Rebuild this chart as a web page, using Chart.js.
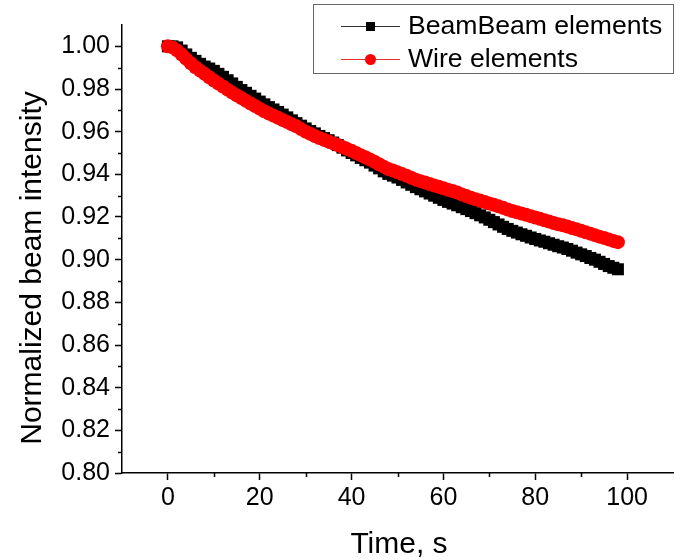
<!DOCTYPE html>
<html>
<head>
<meta charset="utf-8">
<script src="https://cdn.jsdelivr.net/npm/chart.js@4/dist/chart.umd.min.js"></script>
<style>
  html, body { margin: 0; padding: 0; background: #fff; }
  #wrap { width: 682px; height: 560px; position: relative; }
</style>
</head>
<body>
<div id="wrap"><canvas id="c" width="682" height="560"></canvas></div>
<script>
// Time axis (seconds)
const timeS = [
  0, 1, 2, 3, 4, 5, 6, 7, 8, 9,
  10, 11, 12, 13, 14, 15, 16, 17, 18, 19,
  20, 21, 22, 23, 24, 25, 26, 27, 28, 29,
  30, 31, 32, 33, 34, 35, 36, 37, 38, 39,
  40, 41, 42, 43, 44, 45, 46, 47, 48, 49,
  50, 51, 52, 53, 54, 55, 56, 57, 58, 59,
  60, 61, 62, 63, 64, 65, 66, 67, 68, 69,
  70, 71, 72, 73, 74, 75, 76, 77, 78, 79,
  80, 81, 82, 83, 84, 85, 86, 87, 88, 89,
  90, 91, 92, 93, 94, 95, 96, 97, 98
];

// Normalized intensity, BeamBeam elements
const beamBeam = [
  1.0000, 1.0000, 0.9995, 0.9980, 0.9962, 0.9946, 0.9932, 0.9918, 0.9905, 0.9896,
  0.9885, 0.9871, 0.9857, 0.9841, 0.9826, 0.9810, 0.9795, 0.9782, 0.9768, 0.9755,
  0.9741, 0.9728, 0.9715, 0.9704, 0.9692, 0.9680, 0.9667, 0.9653, 0.9640, 0.9628,
  0.9615, 0.9603, 0.9592, 0.9580, 0.9570, 0.9560, 0.9549, 0.9537, 0.9525, 0.9512,
  0.9500, 0.9489, 0.9477, 0.9466, 0.9455, 0.9441, 0.9428, 0.9414, 0.9402, 0.9394,
  0.9385, 0.9374, 0.9362, 0.9351, 0.9340, 0.9330, 0.9320, 0.9310, 0.9300, 0.9290,
  0.9280, 0.9271, 0.9263, 0.9255, 0.9246, 0.9237, 0.9228, 0.9218, 0.9208, 0.9198,
  0.9187, 0.9176, 0.9165, 0.9154, 0.9144, 0.9135, 0.9127, 0.9119, 0.9112, 0.9104,
  0.9097, 0.9090, 0.9084, 0.9077, 0.9070, 0.9063, 0.9057, 0.9050, 0.9042, 0.9033,
  0.9025, 0.9017, 0.9008, 0.9000, 0.8990, 0.8980, 0.8970, 0.8962, 0.8955
];

// Normalized intensity, Wire elements
const wire = [
  1.0000, 0.9995, 0.9981, 0.9962, 0.9941, 0.9921, 0.9902, 0.9886, 0.9871, 0.9855,
  0.9840, 0.9826, 0.9812, 0.9797, 0.9783, 0.9770, 0.9758, 0.9745, 0.9732, 0.9720,
  0.9708, 0.9696, 0.9685, 0.9675, 0.9665, 0.9655, 0.9645, 0.9635, 0.9625, 0.9612,
  0.9600, 0.9590, 0.9580, 0.9570, 0.9562, 0.9554, 0.9545, 0.9537, 0.9528, 0.9519,
  0.9510, 0.9500, 0.9490, 0.9480, 0.9470, 0.9459, 0.9447, 0.9436, 0.9425, 0.9418,
  0.9410, 0.9401, 0.9393, 0.9384, 0.9375, 0.9368, 0.9362, 0.9355, 0.9348, 0.9342,
  0.9335, 0.9328, 0.9322, 0.9315, 0.9306, 0.9298, 0.9290, 0.9283, 0.9277, 0.9270,
  0.9263, 0.9257, 0.9250, 0.9243, 0.9235, 0.9228, 0.9222, 0.9216, 0.9210, 0.9204,
  0.9198, 0.9192, 0.9185, 0.9179, 0.9172, 0.9166, 0.9161, 0.9155, 0.9148, 0.9142,
  0.9135, 0.9128, 0.9122, 0.9115, 0.9108, 0.9102, 0.9095, 0.9088, 0.9082
];

// Tick labels
const xTicks = [0, 20, 40, 60, 80, 100];
const xMinorTicks = [10, 30, 50, 70, 90];
const yTicks = [0.80, 0.82, 0.84, 0.86, 0.88, 0.90, 0.92, 0.94, 0.96, 0.98, 1.00];
const yMinorTicks = [0.81, 0.83, 0.85, 0.87, 0.89, 0.91, 0.93, 0.95, 0.97, 0.99];

const seriesNames = ['BeamBeam elements', 'Wire elements'];
const xTitle = 'Time, s';
const yTitle = 'Normalized beam intensity';

const FONT = "'Liberation Sans', Arial, sans-serif";
Chart.defaults.font.family = FONT;
Chart.defaults.color = '#000';

const toPoints = (xs, ys) => xs.map((x, i) => ({ x: x, y: ys[i] }));

// Short minor tick marks on both axes
const minorTicks = {
  id: 'minorTicks',
  afterDraw(chart) {
    const { ctx, scales: { x, y }, chartArea } = chart;
    ctx.save();
    ctx.strokeStyle = '#000';
    ctx.lineWidth = 1.5;
    ctx.beginPath();
    yMinorTicks.forEach(v => {
      const py = Math.round(y.getPixelForValue(v)) + 0.5;
      ctx.moveTo(chartArea.left, py);
      ctx.lineTo(chartArea.left - 4, py);
    });
    xMinorTicks.forEach(v => {
      const px = Math.round(x.getPixelForValue(v)) + 0.5;
      ctx.moveTo(px, chartArea.bottom);
      ctx.lineTo(px, chartArea.bottom + 4);
    });
    ctx.stroke();
    ctx.restore();
  }
};

// Axis titles
const axisTitles = {
  id: 'axisTitles',
  afterDraw(chart) {
    const ctx = chart.ctx;
    ctx.save();
    ctx.fillStyle = '#000';
    ctx.font = '30px ' + FONT;
    ctx.textAlign = 'center';
    ctx.textBaseline = 'middle';
    ctx.fillText(xTitle, 399, 545);
    ctx.translate(33, 268);
    ctx.rotate(-Math.PI / 2);
    ctx.fillText(yTitle, 0, 0);
    ctx.restore();
  }
};

// Boxed legend with line + marker samples
const boxLegend = {
  id: 'boxLegend',
  afterDraw(chart) {
    const ctx = chart.ctx;
    ctx.save();
    ctx.strokeStyle = '#666';
    ctx.lineWidth = 1;
    ctx.strokeRect(313.5, 4.5, 360, 69);
    const rows = [26, 59];
    chart.data.datasets.forEach((ds, i) => {
      const yy = rows[i];
      ctx.strokeStyle = ds.legendLine;
      ctx.lineWidth = 1;
      ctx.beginPath();
      ctx.moveTo(341, yy + 0.5);
      ctx.lineTo(400, yy + 0.5);
      ctx.stroke();
      ctx.fillStyle = ds.pointBackgroundColor;
      if (ds.pointStyle === 'rect') {
        ctx.fillRect(366, yy - 4, 9, 9);
      } else {
        ctx.beginPath();
        ctx.arc(370.5, yy + 0.5, 5.5, 0, Math.PI * 2);
        ctx.fill();
      }
      ctx.fillStyle = '#000';
      ctx.font = '26.6px ' + FONT;
      ctx.textBaseline = 'middle';
      ctx.textAlign = 'left';
      ctx.fillText(ds.label, 408, yy + 1);
    });
    ctx.restore();
  }
};

new Chart(document.getElementById('c'), {
  type: 'scatter',
  data: {
    datasets: [
      {
        label: seriesNames[0],
        data: toPoints(timeS, beamBeam),
        showLine: true,
        borderColor: '#000',
        borderWidth: 1,
        pointStyle: 'rect',
        pointRadius: 8.5,
        pointBackgroundColor: '#000',
        pointBorderColor: '#000',
        pointBorderWidth: 0,
        legendLine: '#333',
        order: 2
      },
      {
        label: seriesNames[1],
        data: toPoints(timeS, wire),
        showLine: true,
        borderColor: '#f00',
        borderWidth: 1,
        pointStyle: 'circle',
        pointRadius: 7,
        pointBackgroundColor: '#f00',
        pointBorderColor: '#f00',
        pointBorderWidth: 0,
        legendLine: '#e03030',
        order: 1
      }
    ]
  },
  options: {
    responsive: false,
    animation: false,
    layout: { padding: { top: 25, right: 9, left: 0, bottom: 0 } },
    plugins: {
      legend: { display: false },
      tooltip: { enabled: false }
    },
    scales: {
      x: {
        type: 'linear',
        min: -10,
        max: 110,
        afterBuildTicks: s => { s.ticks = xTicks.map(v => ({ value: v })); },
        afterFit: s => { s.height = 87; },
        border: { display: true, color: '#000', width: 1.5 },
        grid: { display: true, drawOnChartArea: false, drawTicks: true, tickLength: 7, color: '#000', tickWidth: 1.5 },
        ticks: {
          font: { size: 25 },
          color: '#000',
          padding: 3,
          maxRotation: 0,
          callback: v => String(v)
        },
        title: { display: false }
      },
      y: {
        type: 'linear',
        min: 0.80,
        max: 1.01,
        afterBuildTicks: s => { s.ticks = yTicks.map(v => ({ value: v })); },
        afterFit: s => { s.width = 122; },
        border: { display: true, color: '#000', width: 1.5 },
        grid: { display: true, drawOnChartArea: false, drawTicks: true, tickLength: 7, color: '#000', tickWidth: 1.5 },
        ticks: {
          font: { size: 25 },
          color: '#000',
          padding: 5,
          callback: v => Number(v).toFixed(2)
        },
        title: { display: false }
      }
    }
  },
  plugins: [minorTicks, axisTitles, boxLegend]
});
</script>
</body>
</html>
